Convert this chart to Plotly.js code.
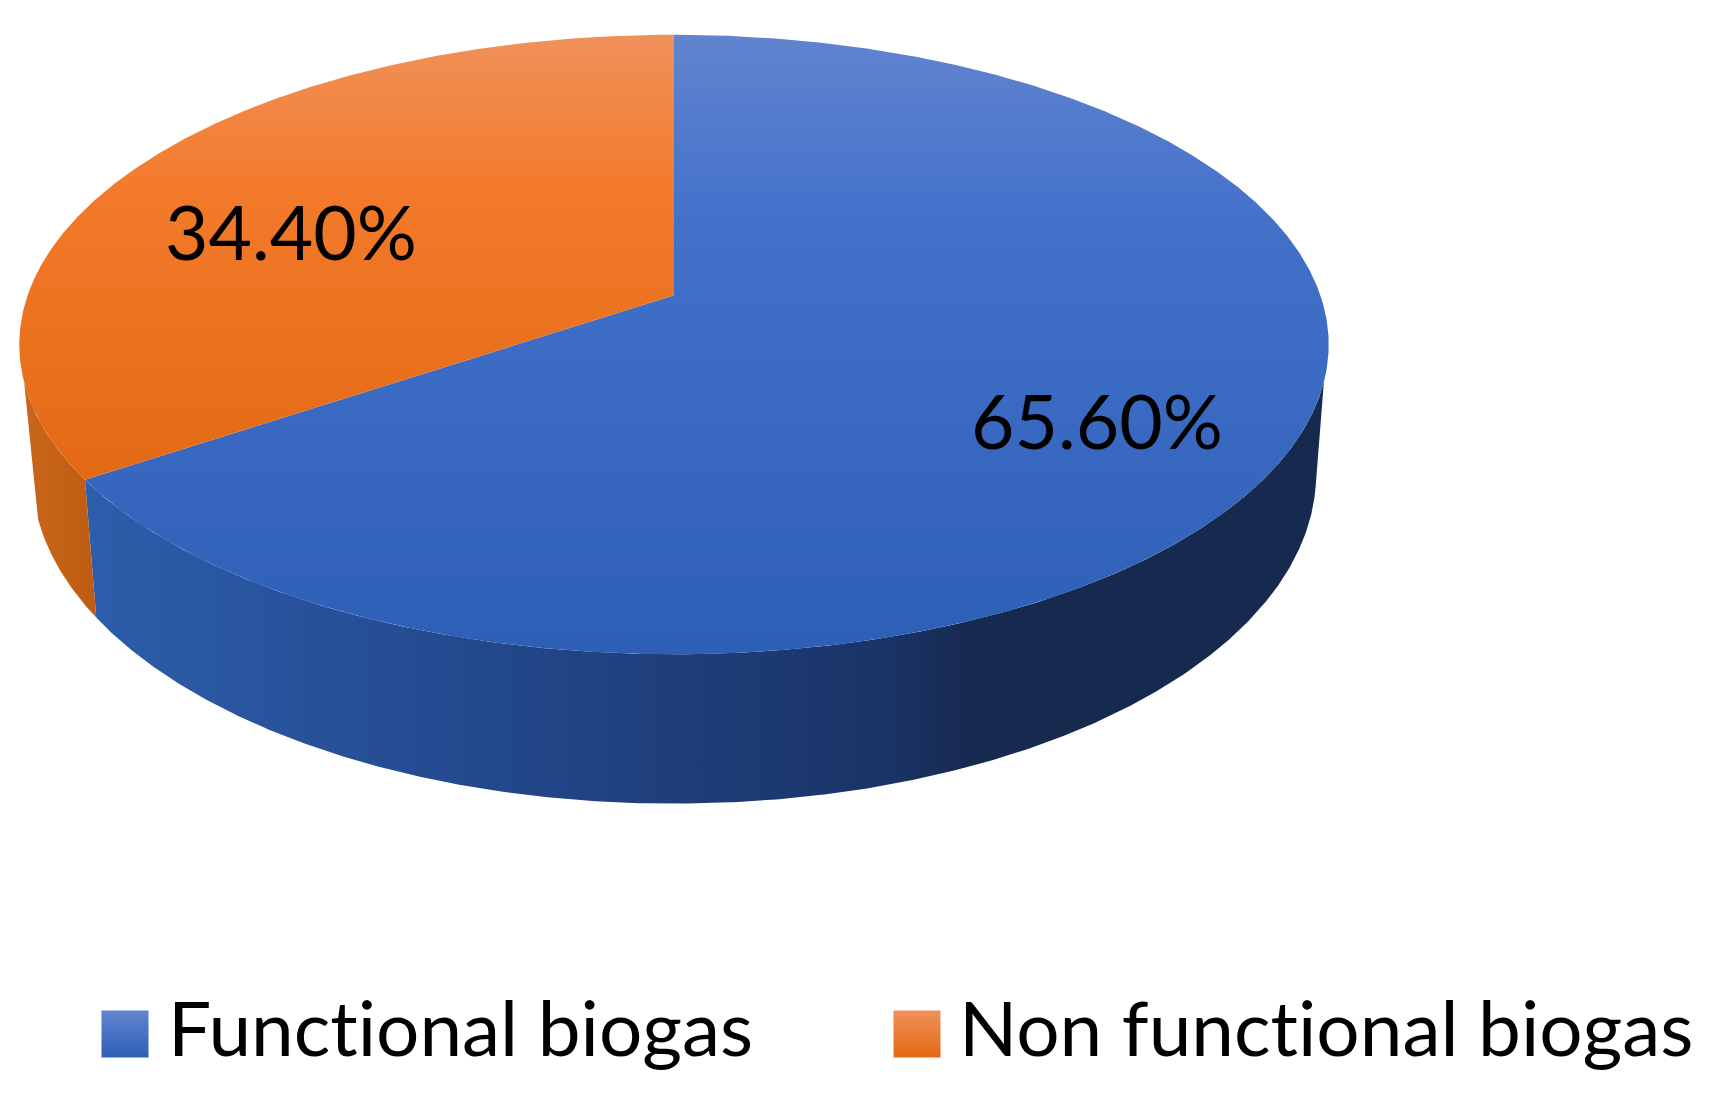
<!DOCTYPE html>
<html>
<head>
<meta charset="utf-8">
<script src="https://cdn.plot.ly/plotly-3.0.1.min.js"></script>
<style>
  body { margin: 0; background: #fff; }
  svg text { font-variant-ligatures: none !important; font-feature-settings: "liga" 0, "clig" 0, "dlig" 0 !important; }
</style>
</head>
<body>
<div id="chartDiv"></div>
<script>
let categories = ['Functional biogas', 'Non functional biogas']
let shares = [65.6, 34.4]

// the plot area is laid out 1 unit = 1 pixel, y pointing down
let pageWidth = 1715
let pageHeight = 1099
let topRim = {cx: 674, cy: 295.3, rx: 646.4, ry: 301.9, tilt: 0.159}
let lowRim = {cx: 674, cy: 421, rx: 634, ry: 321.8, tilt: 0.159}

// angle in degrees, clockwise from 12 o'clock, on a tilted disc seen in perspective
function rimPoint (rim, deg) {
  let a = deg * Math.PI / 180
  let u = Math.sin(a)
  let v = -Math.cos(a)
  let w = 1 - rim.tilt * v
  return [rim.cx + rim.rx * u / w, rim.cy + rim.ry * v / w]
}

function rimArc (rim, from, to) {
  let pts = []
  let n = Math.ceil(Math.abs(to - from) * 4)
  for (let i = 0; i <= n; i++) {
    pts.push(rimPoint(rim, from + (to - from) * i / n))
  }
  return pts
}

function polygon (name, pts, gradType, scale) {
  return {
    type: 'scatter',
    mode: 'lines',
    name: name,
    x: pts.map(function (p) {return p[0]}),
    y: pts.map(function (p) {return p[1]}),
    line: {width: 0, shape: 'linear'},
    fill: 'toself',
    fillgradient: {type: gradType, colorscale: scale},
    hoverinfo: 'skip',
    showlegend: false
  }
}

let splitDeg = shares[0] / 100 * 360

// vertical scales run bottom (0) to top (1) of the slice
let blueTop = [[0, '#2e5fb6'], [0.7, '#4371ca'], [1, '#6184cf']]
let orangeTop = [[0, '#e36914'], [0.65, '#f37a2a'], [1, '#f0915a']]
let blueWall = [[0, '#2d5eab'], [0.3, '#234a8f'], [0.65, '#1a3366'], [0.72, '#16294f'], [1, '#16294f']]
let orangeWall = [[0, '#ca661a'], [1, '#bd5c12']]

let wallBlue = rimArc(topRim, 106, splitDeg).concat(rimArc(lowRim, splitDeg, 101))
let wallOrange = rimArc(topRim, splitDeg, 254).concat(rimArc(lowRim, 253, splitDeg))
let sliceBlue = [[topRim.cx, topRim.cy]].concat(rimArc(topRim, 0, splitDeg))
let sliceOrange = [[topRim.cx, topRim.cy]].concat(rimArc(topRim, splitDeg, 360))

let labelTrace = {
  type: 'scatter',
  mode: 'text',
  x: [1097, 291],
  y: [430, 241],
  text: shares.map(function (s) {return s.toFixed(2) + '%'}),
  textposition: 'middle center',
  textfont: {family: 'Lato', size: 75, color: '#000'},
  hoverinfo: 'skip',
  showlegend: false
}

let keySwatch = {
  type: 'scatter',
  mode: 'markers',
  x: [125, 917],
  y: [1034, 1034],
  marker: {
    symbol: 'square',
    size: 47,
    color: ['#6184cf', '#f0915a'],
    gradient: {type: 'vertical', color: ['#2e5fb6', '#e36914']},
    line: {width: 0}
  },
  hoverinfo: 'skip',
  showlegend: false
}

let keyText = {
  type: 'scatter',
  mode: 'text',
  x: [168, 959],
  y: [1037, 1037],
  text: categories,
  textposition: 'middle right',
  textfont: {family: 'Lato', size: 76.5, color: '#000'},
  hoverinfo: 'skip',
  showlegend: false
}

let traces = [
  polygon('wall functional', wallBlue, 'horizontal', blueWall),
  polygon('wall non functional', wallOrange, 'horizontal', orangeWall),
  polygon(categories[0], sliceBlue, 'vertical', blueTop),
  polygon(categories[1], sliceOrange, 'vertical', orangeTop),
  labelTrace,
  keySwatch,
  keyText
]

let layout = {
  width: pageWidth,
  height: pageHeight,
  autosize: false,
  margin: {l: 0, r: 0, t: 0, b: 0, pad: 0},
  paper_bgcolor: '#fff',
  plot_bgcolor: '#fff',
  showlegend: false,
  xaxis: {range: [0, pageWidth], visible: false, fixedrange: true},
  yaxis: {range: [pageHeight, 0], visible: false, fixedrange: true}
}

Plotly.newPlot('chartDiv', traces, layout, {displayModeBar: false})
</script>
</body>
</html>
